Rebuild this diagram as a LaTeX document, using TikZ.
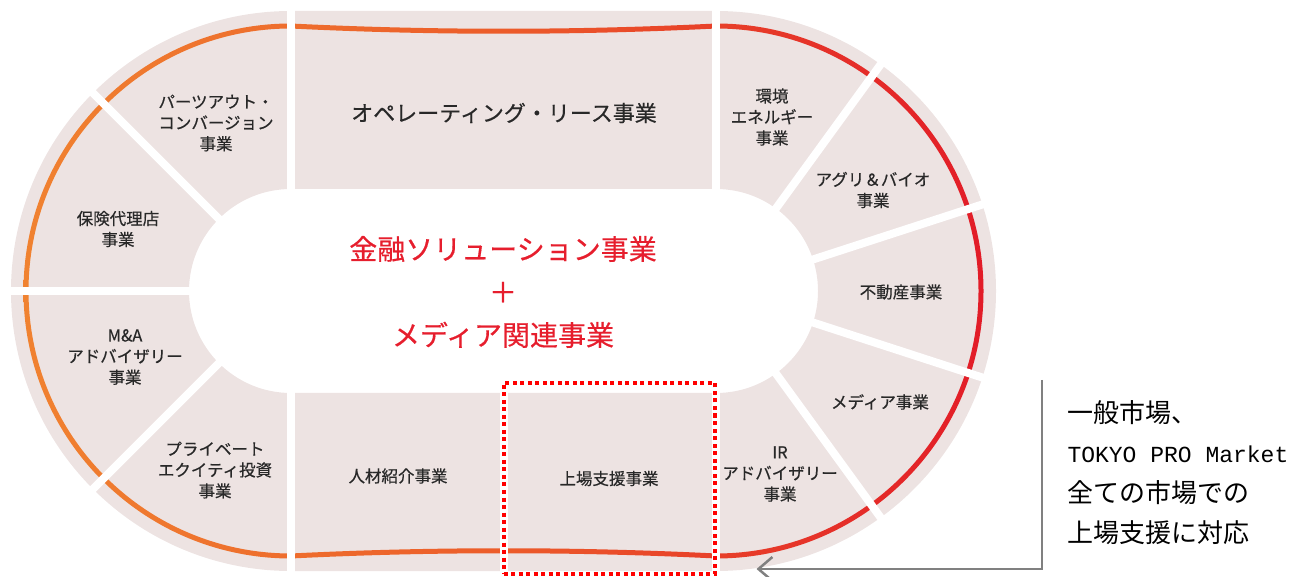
\documentclass[tikz,border=0pt]{standalone}
\usepackage{fontspec}
\setmainfont{Noto Sans CJK JP}
\newfontfamily\segfnt[FakeBold=0.5]{Noto Sans CJK JP}
\newfontfamily\monofnt{Liberation Mono}
\usetikzlibrary{arrows.meta}
\definecolor{ringfill}{RGB}{237,227,226}
\definecolor{bandorange}{RGB}{240,130,48}
\definecolor{bandmid}{RGB}{236,92,42}
\definecolor{bandred}{RGB}{226,28,40}
\definecolor{labeltext}{RGB}{40,40,40}
\definecolor{coretext}{RGB}{230,30,45}
\definecolor{boxred}{RGB}{255,0,0}
\definecolor{notegray}{RGB}{128,128,128}
\newcommand{\lcx}{291}
\newcommand{\rcx}{716}
\newcommand{\midy}{285}
\newcommand{\outR}{280}
\newcommand{\inR}{102}
\newcommand{\stadium}[1]{(\lcx,\midy+#1) -- (\rcx,\midy+#1) arc[start angle=90,end angle=-90,radius=#1] -- (\lcx,\midy-#1) arc[start angle=270,end angle=90,radius=#1] -- cycle}
\newcommand{\bandloop}[1]{(\lcx,\midy+#1) .. controls (\lcx+140,\midy+#1-7) and (\rcx-140,\midy+#1-7) .. (\rcx,\midy+#1) arc[start angle=90,end angle=-90,radius=#1] .. controls (\rcx-140,\midy-#1+7) and (\lcx+140,\midy-#1+7) .. (\lcx,\midy-#1) arc[start angle=270,end angle=90,radius=#1] -- cycle}

\begin{document}
\begin{tikzpicture}[x=1pt,y=1pt,
    seg/.style={text=labeltext,font=\segfnt\fontsize{16.5}{21}\selectfont,align=center},
    sepline/.style={white,line width=8},
    dotbox/.style={draw=boxred,line width=4,dash pattern=on 4pt off 3.5pt},
    core/.style={text=coretext,font=\segfnt\fontsize{28}{43}\selectfont,align=center},
    note/.style={text=black,font=\fontsize{26}{40}\selectfont,align=left},
    notearrow/.style={draw=notegray,line width=2.5,-{Straight Barb[length=14pt,width=24pt]}}]

    \useasboundingbox (0,0) rectangle (1293,576);

    % Ring of business segments
    \fill[ringfill,even odd rule] \stadium{\outR} \stadium{\inR};

    % Orange to red band
    \shade[even odd rule,left color=bandorange,right color=bandred,middle color=bandmid]
        \bandloop{267.5} \bandloop{262.5};

    % White gaps between segments
    \foreach \a in {135,180,225}
        \draw[sepline] (\lcx,\midy) ++(\a:96) -- ++(\a:192);
    \foreach \a in {54,18,-18,-54}
        \draw[sepline] (\rcx,\midy) ++(\a:96) -- ++(\a:192);
    \foreach \x in {\lcx,\rcx}
        \draw[sepline] (\x,\midy+\inR-6) -- (\x,\midy+\outR+6);
    \foreach \x in {\lcx,504,\rcx}
        \draw[sepline] (\x,\midy-\inR+6) -- (\x,\midy-\outR-6);

    % Segment labels, left half
    \node[seg] (parts) at (216,453) {パーツアウト・\\コンバージョン\\事業};
    \node[seg] (insurance) at (118,347) {保険代理店\\事業};
    \node[seg] (mna) at (125,219) {M\&A\\アドバイザリー\\事業};
    \node[seg] (pe) at (215,106) {プライベート\\エクイティ投資\\事業};

    % Straight parts
    \node[seg,font=\segfnt\fontsize{22}{26}\selectfont] (oplease) at (504,463) {オペレーティング・リース事業};
    \node[seg] (staffing) at (398,100) {人材紹介事業};
    \node[seg,dotbox,minimum width=211,minimum height=191] (listing) at (609,97.5) {上場支援事業};

    % Segment labels, right half
    \node[seg] (energy) at (772,459) {環境\\エネルギー\\事業};
    \node[seg] (agri) at (873,386) {アグリ＆バイオ\\事業};
    \node[seg] (realestate) at (901,284) {不動産事業};
    \node[seg] (media) at (880,174) {メディア事業};
    \node[seg] (irad) at (780,102) {IR\\アドバイザリー\\事業};

    % Core business in the middle
    \node[core] (core) at (503,284) {金融ソリューション事業\\＋\\メディア関連事業};

    % Note on listing support
    \node[note,anchor=west] (note) at (1064,103)
        {一般市場、\\{\monofnt\fontsize{23}{40}\selectfont TOKYO PRO Market}\\全ての市場での\\上場支援に対応};
    \coordinate (btop) at (1042,196);
    \draw[notearrow] (btop) |- ([shift={(40,7)}]listing.south east);
\end{tikzpicture}
\end{document}
